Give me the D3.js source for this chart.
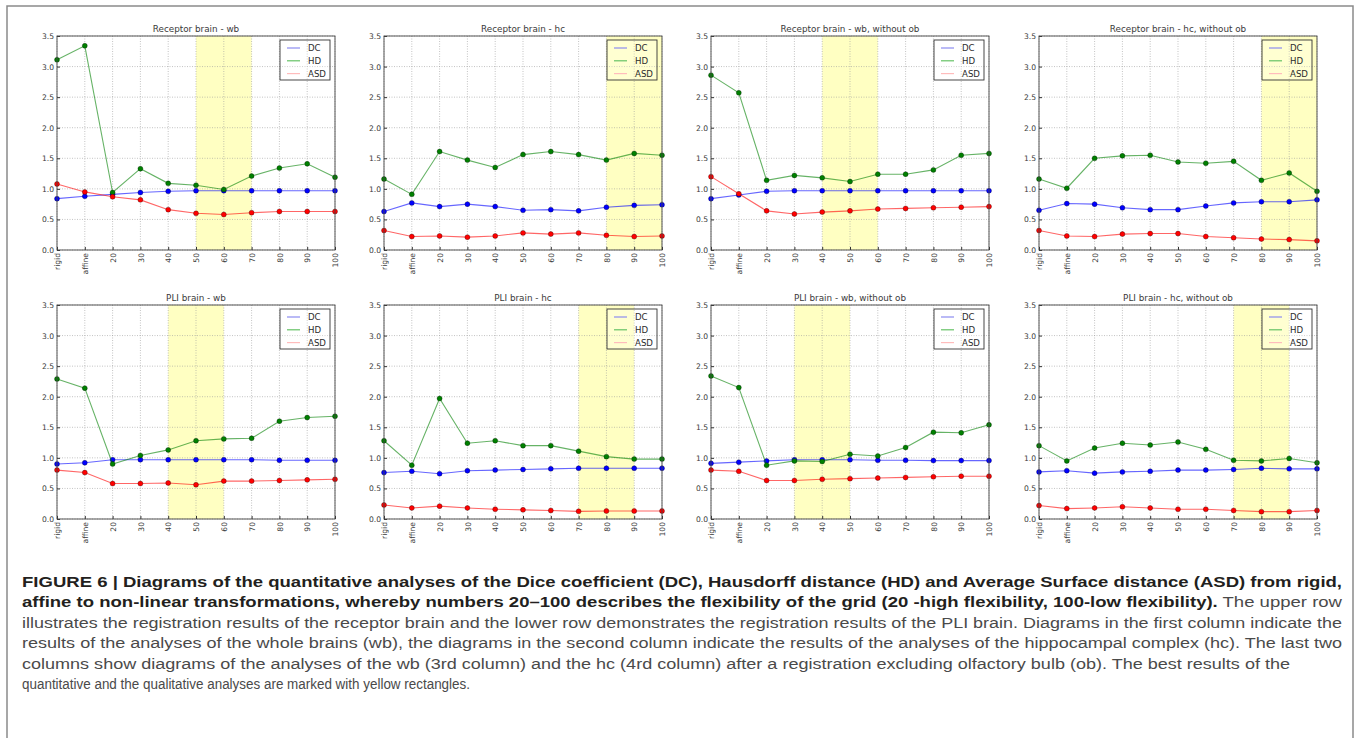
<!DOCTYPE html>
<html>
<head>
<meta charset="utf-8">
<script src="https://cdn.jsdelivr.net/npm/d3@7"></script>
<style>
  body { margin: 0; background: #fff; }
  svg { display: block; }
  .tick text { font-family: "DejaVu Sans", sans-serif; font-size: 7.6px; fill: #3a3a3a; }
</style>
</head>
<body>
<div class="container"></div>
<script>
// categories on the x axis (rigid, affine, then grid flexibility)
const categories = ['rigid', 'affine', '20', '30', '40', '50', '60', '70', '80', '90', '100'];
const yTicks = [0, 0.5, 1, 1.5, 2, 2.5, 3, 3.5];
const seriesNames = ['DC', 'HD', 'ASD'];

const titles = [
  'Receptor brain - wb', 'Receptor brain - hc', 'Receptor brain - wb, without ob', 'Receptor brain - hc, without ob',
  'PLI brain - wb', 'PLI brain - hc', 'PLI brain - wb, without ob', 'PLI brain - hc, without ob'
];

// yellow "best result" span per panel [from, to]
const highlights = [
  ['50', '70'], ['80', '100'], ['40', '60'], ['80', '100'],
  ['40', '60'], ['70', '90'], ['30', '50'], ['70', '90']
];

// Dice coefficient, one row per panel
const dcValues = [
  [0.84, 0.88, 0.91, 0.94, 0.96, 0.97, 0.97, 0.97, 0.97, 0.97, 0.97],
  [0.63, 0.77, 0.71, 0.75, 0.71, 0.65, 0.66, 0.64, 0.70, 0.73, 0.74],
  [0.84, 0.90, 0.96, 0.97, 0.97, 0.97, 0.97, 0.97, 0.97, 0.97, 0.97],
  [0.65, 0.76, 0.75, 0.69, 0.66, 0.66, 0.72, 0.77, 0.79, 0.79, 0.82],
  [0.90, 0.92, 0.97, 0.97, 0.97, 0.97, 0.97, 0.97, 0.96, 0.96, 0.96],
  [0.76, 0.78, 0.74, 0.79, 0.80, 0.81, 0.82, 0.83, 0.83, 0.83, 0.83],
  [0.91, 0.93, 0.95, 0.97, 0.97, 0.97, 0.96, 0.96, 0.955, 0.955, 0.955],
  [0.77, 0.79, 0.75, 0.77, 0.78, 0.80, 0.80, 0.81, 0.83, 0.82, 0.82]
];

// Hausdorff distance
const hdValues = [
  [3.11, 3.34, 0.94, 1.33, 1.09, 1.06, 0.99, 1.21, 1.34, 1.41, 1.19],
  [1.16, 0.91, 1.61, 1.47, 1.35, 1.56, 1.61, 1.56, 1.47, 1.58, 1.55],
  [2.86, 2.57, 1.14, 1.22, 1.18, 1.12, 1.24, 1.24, 1.31, 1.55, 1.58],
  [1.16, 1.01, 1.50, 1.54, 1.55, 1.44, 1.42, 1.45, 1.14, 1.26, 0.96],
  [2.29, 2.14, 0.90, 1.04, 1.13, 1.28, 1.31, 1.32, 1.60, 1.66, 1.68],
  [1.28, 0.88, 1.97, 1.24, 1.28, 1.20, 1.20, 1.11, 1.02, 0.98, 0.98],
  [2.34, 2.15, 0.88, 0.95, 0.94, 1.06, 1.03, 1.17, 1.42, 1.41, 1.54],
  [1.20, 0.95, 1.16, 1.24, 1.21, 1.26, 1.14, 0.96, 0.95, 0.99, 0.92]
];

// Average surface distance
const asdValues = [
  [1.08, 0.95, 0.87, 0.82, 0.66, 0.60, 0.58, 0.61, 0.63, 0.63, 0.63],
  [0.32, 0.22, 0.23, 0.21, 0.23, 0.28, 0.26, 0.28, 0.24, 0.22, 0.23],
  [1.20, 0.92, 0.64, 0.59, 0.62, 0.64, 0.67, 0.68, 0.69, 0.70, 0.71],
  [0.32, 0.23, 0.22, 0.26, 0.27, 0.27, 0.22, 0.20, 0.18, 0.17, 0.15],
  [0.80, 0.76, 0.58, 0.58, 0.59, 0.56, 0.62, 0.62, 0.63, 0.64, 0.65],
  [0.23, 0.18, 0.21, 0.18, 0.16, 0.15, 0.14, 0.125, 0.13, 0.13, 0.13],
  [0.80, 0.78, 0.63, 0.63, 0.65, 0.66, 0.67, 0.68, 0.69, 0.70, 0.70],
  [0.22, 0.17, 0.18, 0.20, 0.18, 0.16, 0.16, 0.14, 0.12, 0.12, 0.14]
];

const captionLines = [
  [{b: true, t: 'FIGURE 6 | Diagrams of the quantitative analyses of the Dice coefficient (DC), Hausdorff distance (HD) and Average Surface distance (ASD) from rigid,'}],
  [{b: true, t: 'affine to non-linear transformations, whereby numbers 20\u2013100 describes the flexibility of the grid (20 -high flexibility, 100-low flexibility).'},
   {b: false, t: ' The upper row'}],
  [{b: false, t: 'illustrates the registration results of the receptor brain and the lower row demonstrates the registration results of the PLI brain. Diagrams in the first column indicate the'}],
  [{b: false, t: 'results of the analyses of the whole brains (wb), the diagrams in the second column indicate the results of the analyses of the hippocampal complex (hc). The last two'}],
  [{b: false, t: 'columns show diagrams of the analyses of the wb (3rd column) and the hc (4rd column) after a registration excluding olfactory bulb (ob). The best results of the'}],
  [{b: false, t: 'quantitative and the qualitative analyses are marked with yellow rectangles.'}]
];

// layout
const W = 1358, H = 738;
const colX = [57, 384, 711, 1039];
const rowY = [36, 305];
const pw = 278, ph = 214;

const lineCol = {DC: '#0000ff', HD: '#008000', ASD: '#ff0000'};
const legendCol = {DC: '#8c8cf0', HD: '#66c266', ASD: '#ffbcbc'};

const svg = d3.select('.container')
  .append('svg')
  .attr('width', W)
  .attr('height', H);

// outer frame (open at the bottom)
svg.append('path')
  .attr('d', `M7,${H} V6 H1353 V${H}`)
  .attr('fill', 'none')
  .attr('stroke', '#8a8a8a')
  .attr('stroke-width', 1.5);

const x = d3.scalePoint().domain(categories).range([0, pw]);
const y = d3.scaleLinear().domain([0, 3.5]).range([ph, 0]);

const line = d3.line()
  .x((d, i) => x(categories[i]))
  .y(d => y(d));

titles.forEach(function(title, p) {
  const g = svg.append('g')
    .attr('transform', `translate(${colX[p % 4]},${rowY[Math.floor(p / 4)]})`);

  // yellow span
  const hl = highlights[p];
  g.append('rect')
    .attr('x', x(hl[0]))
    .attr('y', 0)
    .attr('width', x(hl[1]) - x(hl[0]))
    .attr('height', ph)
    .attr('fill', '#ffffc2');

  // dotted grid
  g.append('g').selectAll('line')
    .data(categories)
    .join('line')
    .attr('x1', d => x(d)).attr('x2', d => x(d))
    .attr('y1', 0).attr('y2', ph)
    .attr('stroke', '#9a9a9a').attr('stroke-width', 0.6)
    .attr('stroke-dasharray', '1,1.5');
  g.append('g').selectAll('line')
    .data(yTicks)
    .join('line')
    .attr('x1', 0).attr('x2', pw)
    .attr('y1', d => y(d)).attr('y2', d => y(d))
    .attr('stroke', '#9a9a9a').attr('stroke-width', 0.6)
    .attr('stroke-dasharray', '1,1.5');

  // axes
  const ya = g.append('g')
    .call(d3.axisLeft(y).tickValues(yTicks).tickFormat(d3.format('.1f')).tickSize(-3).tickPadding(3));
  ya.select('.domain').remove();
  ya.selectAll('.tick line').attr('stroke', '#333');

  const xa = g.append('g')
    .attr('transform', `translate(0,${ph})`)
    .call(d3.axisBottom(x).tickSize(-3));
  xa.select('.domain').remove();
  xa.selectAll('.tick line').attr('stroke', '#333');
  xa.selectAll('.tick text')
    .attr('transform', 'rotate(-90)')
    .attr('text-anchor', 'end')
    .attr('x', -3)
    .attr('y', 0)
    .attr('dy', '0.35em');

  // series
  const vals = {DC: dcValues[p], HD: hdValues[p], ASD: asdValues[p]};
  seriesNames.forEach(function(s) {
    g.append('path')
      .datum(vals[s])
      .attr('d', line)
      .attr('fill', 'none')
      .attr('stroke', lineCol[s])
      .attr('stroke-opacity', 0.6)
      .attr('stroke-width', 1.1);
    g.append('g').selectAll('circle')
      .data(vals[s])
      .join('circle')
      .attr('cx', (d, i) => x(categories[i]))
      .attr('cy', d => y(d))
      .attr('r', 2.5)
      .attr('fill', lineCol[s])
      .attr('stroke', '#000')
      .attr('stroke-width', 0.3);
  });

  // frame
  g.append('rect')
    .attr('width', pw).attr('height', ph)
    .attr('fill', 'none')
    .attr('stroke', '#444')
    .attr('stroke-width', 0.9);

  // title
  g.append('text')
    .attr('x', pw / 2)
    .attr('y', -4)
    .attr('text-anchor', 'middle')
    .attr('font-family', 'DejaVu Sans, sans-serif')
    .attr('font-weight', 'normal')
    .attr('font-size', 8.8)
    .attr('fill', '#3a3a3a')
    .text(title);

  // legend
  const lg = g.append('g').attr('transform', `translate(${pw - 55},4)`);
  lg.append('rect')
    .attr('width', 50).attr('height', 40)
    .attr('fill', '#fff').attr('fill-opacity', 0.25)
    .attr('stroke', '#333').attr('stroke-width', 0.9);
  seriesNames.forEach(function(s, i) {
    const ly = 8 + i * 12.8;
    lg.append('line')
      .attr('x1', 7).attr('x2', 20)
      .attr('y1', ly).attr('y2', ly)
      .attr('stroke', legendCol[s]).attr('stroke-width', 1.2);
    lg.append('text')
      .attr('x', 28).attr('y', ly)
      .attr('dy', '0.35em')
      .attr('font-family', 'DejaVu Sans, sans-serif')
      .attr('font-size', 8.6)
      .attr('fill', '#2a2a2a')
      .text(s);
  });
});

// caption, lines 1-4 justified to the right margin
const capLen = [1320, 1320, 1320, 1320, 1268, 448];
captionLines.forEach(function(parts, i) {
  const t = svg.append('text')
    .attr('x', 22)
    .attr('y', 587 + i * 20.4)
    .attr('font-family', '"Liberation Sans Narrow", "Arial Narrow", "Liberation Sans", sans-serif')
    .attr('font-size', 15.5)
    .attr('textLength', capLen[i])
    .attr('lengthAdjust', 'spacingAndGlyphs');
  parts.forEach(function(part) {
    t.append('tspan')
      .attr('font-weight', part.b ? 'bold' : 'normal')
      .attr('fill', part.b ? '#231f20' : '#4a4a4a')
      .text(part.t);
  });
});
</script>
</body>
</html>
